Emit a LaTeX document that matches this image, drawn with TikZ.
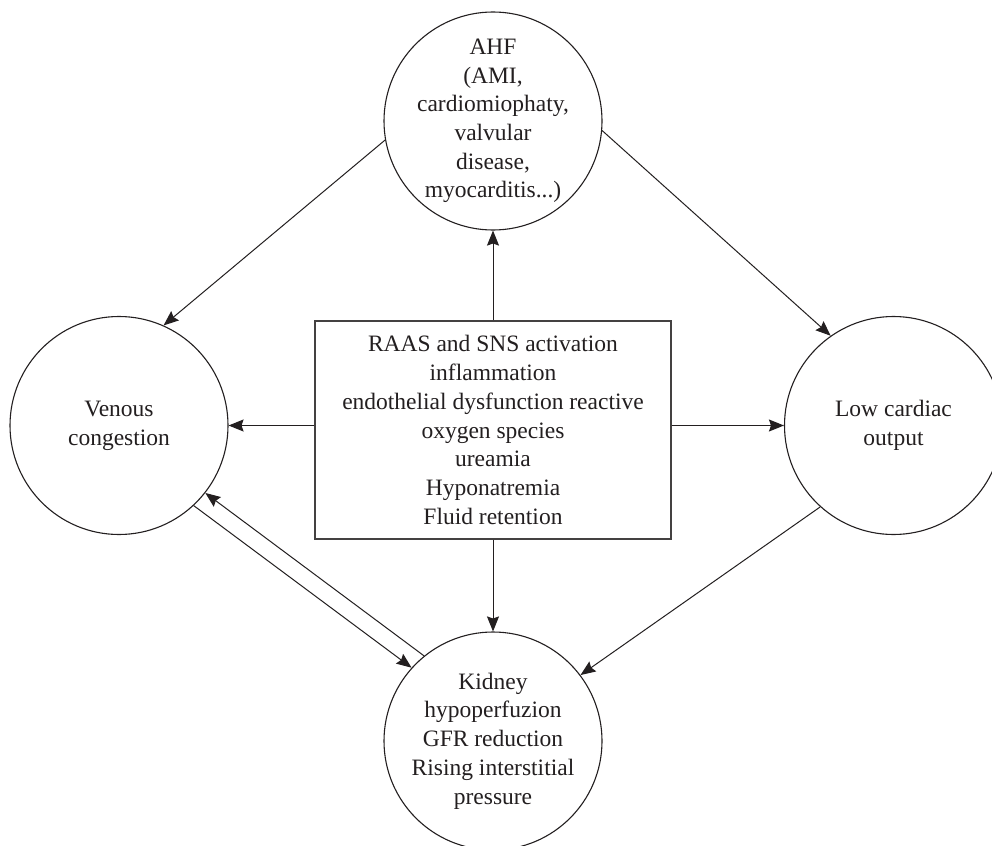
\documentclass[tikz,border=0pt]{standalone}
\usepackage{fontspec}
\setmainfont{Liberation Serif}
\usetikzlibrary{arrows.meta}
\definecolor{ink}{RGB}{35,31,32}
\begin{document}
\begin{tikzpicture}[x=1pt,y=-1pt,
  circ/.style={circle,draw=ink,line width=1.1pt,minimum size=218pt,inner sep=0pt},
  txt/.style={align=center,text=ink,font=\fontsize{23.5}{28.7}\selectfont,inner sep=0pt},
  boxnode/.style={rectangle,draw=ink!85,line width=1.3pt,minimum width=356pt,minimum height=218pt,inner sep=0pt},
  arr/.style={draw=ink,line width=1pt,-{Stealth[length=15pt,width=12pt,inset=2pt]}}]
\useasboundingbox (0,0) rectangle (992,845);
\fill[white] (0,0) rectangle (992,845);
% nodes
\node[circ] (T) at (493,121) {};
\node[txt] (Tt) at (T) {AHF\\(AMI,\\cardiomiophaty,\\valvular\\disease,\\myocarditis...)};
\node[circ] (L) at (119,425.5) {};
\node[txt] (Lt) at (L) {Venous\\congestion};
\node[circ] (R) at (893.5,425.5) {};
\node[txt] (Rt) at (R) {Low cardiac\\output};
\node[circ] (B) at (493,741) {};
\node[txt] (Bt) at (B) {Kidney\\hypoperfuzion\\GFR reduction\\Rising interstitial\\pressure};
\node[boxnode] (X) at (493,430) {};
\node[txt] (Xt) at (X) {RAAS and SNS activation\\inflammation\\endothelial dysfunction reactive\\oxygen species\\ureamia\\Hyponatremia\\Fluid retention};
% connectors
\draw[arr] (X.north) -- (T.south);
\draw[arr] (X.south) -- (B.north);
\draw[arr] (X.west |- L.east) -- (L.east);
\draw[arr] (X.east |- R.west) -- (R.west);
\draw[arr] (T.190.7) -- (L.66.6);
\draw[arr] (T.-5.3) -- (R.125.9);
\draw[arr] (R.228.2) -- (B.37);
\draw[arr] (L.-47.5) -- (B.138.3);
\draw[arr] (B.129.6) -- (L.-38.2);
\end{tikzpicture}
\end{document}
